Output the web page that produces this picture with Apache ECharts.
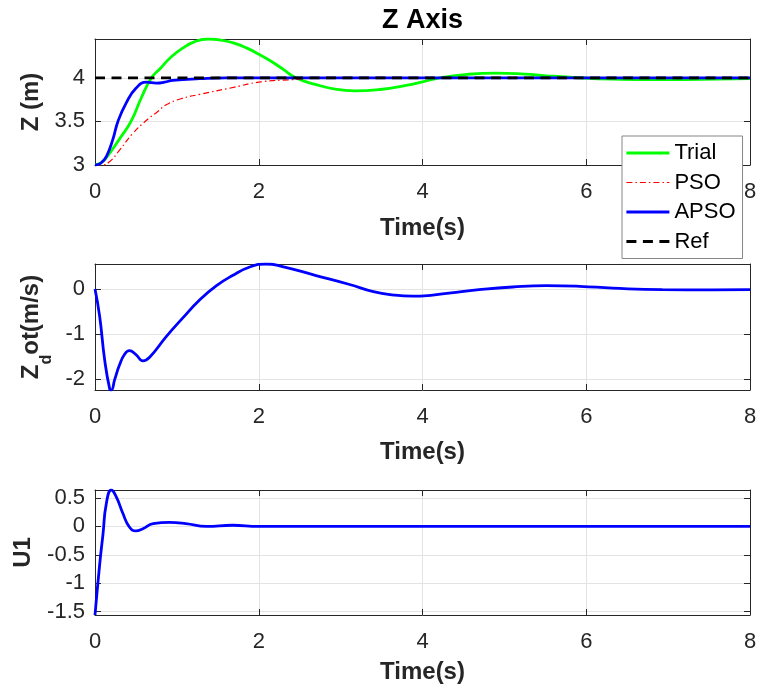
<!DOCTYPE html>
<html>
<head>
<meta charset="utf-8">
<script src="https://cdn.jsdelivr.net/npm/echarts@6/dist/echarts.min.js"></script>
<style>html,body{margin:0;padding:0;background:#fff}#c{width:760px;height:695px}</style>
</head>
<body>
<div id="c"></div>
<script>
// ---- data ----
var trialT = [0, 0.08, 0.15, 0.3, 0.44, 0.57, 0.69, 0.8, 0.92, 1.07, 1.22, 1.38, 1.52, 1.69, 1.85, 2.0, 2.15, 2.3, 2.45, 2.7, 2.95, 3.17, 3.48, 3.8, 4.0, 4.21, 4.55, 4.9, 5.25, 5.51, 5.92, 6.33, 6.8, 7.2, 7.6, 8.0];
var trialV = [3.0, 3.03, 3.1, 3.3, 3.5, 3.78, 4.0, 4.11, 4.23, 4.34, 4.415, 4.445, 4.436, 4.4, 4.343, 4.27, 4.19, 4.097, 4.0, 3.922, 3.867, 3.85, 3.866, 3.913, 3.953, 4.0, 4.04, 4.054, 4.042, 4.023, 4.0, 3.985, 3.978, 3.98, 3.985, 3.99];
var psoT = [0, 0.08, 0.18, 0.3, 0.46, 0.65, 0.75, 0.87, 1.05, 1.28, 1.69, 2.0, 2.42, 2.8, 8.0];
var psoV = [3.0, 3.0, 3.04, 3.17, 3.36, 3.53, 3.6, 3.69, 3.76, 3.81, 3.89, 3.95, 3.98, 4.0, 4.0];
var apsoT = [0, 0.07, 0.14, 0.22, 0.28, 0.38, 0.5, 0.63, 0.75, 0.85, 0.95, 1.28, 1.6, 8.0];
var apsoV = [3.0, 3.02, 3.1, 3.3, 3.5, 3.71, 3.88, 3.95, 3.94, 3.95, 3.97, 3.99, 4.0, 4.0];
var refT = [0, 8];
var refV = [4, 4];

var zdotT = [0, 0.057, 0.118, 0.18, 0.2, 0.24, 0.3, 0.36, 0.42, 0.5, 0.585, 0.667, 0.87, 1.07, 1.28, 1.48, 1.68, 1.89, 2.09, 2.29, 2.7, 3.11, 3.4, 3.65, 3.88, 4.1, 4.35, 4.69, 5.1, 5.51, 5.92, 6.32, 6.93, 7.54, 8.0];
var zdotV = [0, -0.61, -1.58, -2.23, -2.25, -2.02, -1.69, -1.46, -1.375, -1.46, -1.6, -1.52, -1.06, -0.65, -0.24, 0.07, 0.3, 0.49, 0.557, 0.5, 0.3, 0.1, -0.06, -0.135, -0.16, -0.14, -0.085, -0.015, 0.045, 0.075, 0.06, 0.02, -0.015, -0.02, -0.015];

var u1T = [0, 0.057, 0.098, 0.138, 0.2, 0.26, 0.34, 0.42, 0.5, 0.585, 0.71, 0.91, 1.11, 1.36, 1.68, 2.0, 8.0];
var u1V = [-1.558, -0.67, -0.13, 0.4, 0.64, 0.52, 0.23, -0.01, -0.08, -0.04, 0.05, 0.07, 0.05, 0.0, 0.02, 0.0, 0.0];

var xTicks = [0, 2, 4, 6, 8];
var y1Ticks = [3, 3.5, 4];
var y2Ticks = [-2, -1, 0];
var y3Ticks = [-1.5, -1, -0.5, 0, 0.5];
var y1Range = [3, 4.445];
var y2Range = [-2.25, 0.557];
var y3Range = [-1.558, 0.64];

function pairs(t, v) { return t.map(function (x, i) { return [x, v[i]]; }); }

// ---- style ----
var FONT = 'Liberation Sans';
var TXT = '#262626';
var GRIDC = '#e3e3e3';

var grids = [
  { left: 95, right: 10, top: 39, height: 126 },
  { left: 95, right: 10, top: 264, height: 126 },
  { left: 95, right: 10, top: 490, height: 125 }
];
var nameGapsX = [51, 50, 45];

var xAxes = [];
for (var g = 0; g < 3; g++) {
  xAxes.push({
    type: 'value', gridIndex: g, min: 0, max: 8, interval: 2,
    name: 'Time(s)', nameLocation: 'middle', nameGap: nameGapsX[g],
    nameTextStyle: { fontFamily: FONT, fontSize: 24, fontWeight: 'bold', color: TXT },
    axisLine: { onZero: false, lineStyle: { color: TXT, width: 1 } },
    axisTick: { inside: true, length: 6, lineStyle: { color: TXT }, customValues: xTicks },
    axisLabel: { fontFamily: FONT, fontSize: 22, color: TXT, margin: 16, customValues: xTicks },
    splitLine: { show: true, lineStyle: { color: GRIDC, width: 1 } }
  });
}
for (var g2 = 0; g2 < 3; g2++) {
  xAxes.push({
    type: 'value', gridIndex: g2, position: 'top', min: 0, max: 8, interval: 2,
    axisLine: { onZero: false, lineStyle: { color: TXT, width: 1 } },
    axisTick: { inside: true, length: 6, lineStyle: { color: TXT }, customValues: xTicks },
    axisLabel: { show: false }, splitLine: { show: false }
  });
}

var yNames = ['Z (m)', '{z|Z}{d|d}{z|ot(m/s)}', 'U1'];
var yRanges = [y1Range, y2Range, y3Range];
var yTicks = [y1Ticks, y2Ticks, y3Ticks];
var yGaps = [51, 40, 60];
var yAxes = [];
for (var k = 0; k < 3; k++) {
  yAxes.push({
    type: 'value', gridIndex: k, min: yRanges[k][0], max: yRanges[k][1],
    name: yNames[k], nameLocation: 'middle', nameGap: yGaps[k], nameRotate: 90,
    nameTextStyle: {
      fontFamily: FONT, fontSize: 24, fontWeight: 'bold', color: TXT,
      rich: {
        z: { fontFamily: FONT, fontSize: 24, fontWeight: 'bold', color: TXT, lineHeight: 30 },
        d: { fontFamily: FONT, fontSize: 16, fontWeight: 'bold', color: TXT, lineHeight: 46, verticalAlign: 'bottom' }
      }
    },
    axisLine: { show: true, onZero: false, lineStyle: { color: TXT, width: 1 } },
    axisTick: { show: true, inside: true, length: 6, lineStyle: { color: TXT }, customValues: yTicks[k] },
    axisLabel: { fontFamily: FONT, fontSize: 22, color: TXT, margin: 10, customValues: yTicks[k] },
    splitLine: { show: true, lineStyle: { color: GRIDC, width: 1 } }
  });
}
for (var k2 = 0; k2 < 3; k2++) {
  yAxes.push({
    type: 'value', gridIndex: k2, position: 'right', min: yRanges[k2][0], max: yRanges[k2][1],
    axisLine: { show: true, onZero: false, lineStyle: { color: TXT, width: 1 } },
    axisTick: { show: true, inside: true, length: 6, lineStyle: { color: TXT }, customValues: yTicks[k2] },
    axisLabel: { show: false }, splitLine: { show: false }
  });
}

var DASH_PSO = [6, 3, 1.5, 3];
var DASH_REF = [10, 6.5];

function lineSeries(name, data, xi, yi, color, width, type, smooth) {
  return {
    name: name, type: 'line', xAxisIndex: xi, yAxisIndex: yi, data: data,
    symbol: 'none', smooth: smooth, animation: false,
    lineStyle: { color: color, width: width, type: type },
    itemStyle: { color: color }
  };
}

var option = {
  backgroundColor: '#ffffff',
  animation: false,
  title: {
    text: 'Z Axis', left: 377, top: 2,
    textStyle: { fontFamily: FONT, fontSize: 27, fontWeight: 'bold', color: '#000' }
  },
  legend: {
    data: [
      { name: 'Trial', lineStyle: { width: 2.8 } },
      { name: 'PSO', lineStyle: { width: 1.2, type: DASH_PSO } },
      { name: 'APSO', lineStyle: { width: 2.8 } },
      { name: 'Ref', lineStyle: { width: 2.8, type: DASH_REF } }
    ],
    orient: 'vertical', left: 622, top: 136,
    itemWidth: 43, itemHeight: 22, itemGap: 7.5,
    padding: [6, 7, 6, 3],
    itemStyle: { opacity: 0 },
    backgroundColor: '#ffffff', borderColor: '#868686', borderWidth: 1,
    textStyle: { fontFamily: FONT, fontSize: 22, color: '#000', lineHeight: 22 },
    z: 10
  },
  grid: grids,
  xAxis: xAxes,
  yAxis: yAxes,
  series: [
    lineSeries('Trial', pairs(trialT, trialV), 0, 0, '#00ff00', 2.8, 'solid', 0.5),
    lineSeries('PSO', pairs(psoT, psoV), 0, 0, '#ff0000', 1.2, DASH_PSO, 0.5),
    lineSeries('APSO', pairs(apsoT, apsoV), 0, 0, '#0000ff', 2.8, 'solid', 0.5),
    lineSeries('Ref', pairs(refT, refV), 0, 0, '#000000', 2.8, DASH_REF, false),
    lineSeries('Zdot', pairs(zdotT, zdotV), 1, 1, '#0000ff', 2.8, 'solid', 0.5),
    lineSeries('U1', pairs(u1T, u1V), 2, 2, '#0000ff', 2.8, 'solid', 0.5)
  ]
};

var chart = echarts.init(document.getElementById('c'), null, { renderer: 'canvas' });
chart.setOption(option);
</script>
</body>
</html>
